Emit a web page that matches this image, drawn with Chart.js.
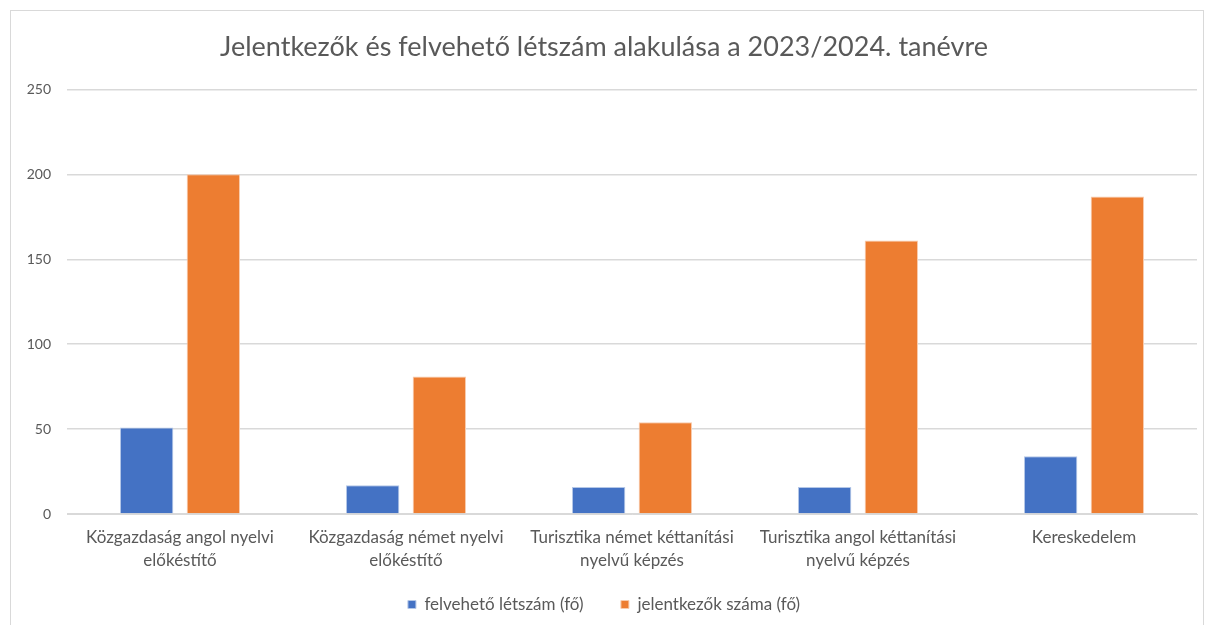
<!DOCTYPE html>
<html>
<head>
<meta charset="utf-8">
<script src="https://cdn.jsdelivr.net/npm/chart.js@4"></script>
<style>
  html, body { margin: 0; padding: 0; background: #fff; }
  #wrap { position: absolute; left: 10px; top: 10px; width: 1194px; height: 620px; border: 1px solid #d9d9d9; box-sizing: border-box; }
  canvas { display: block; }
</style>
</head>
<body>
<div id="wrap"><canvas id="chart"></canvas></div>
<script>
// chart data
const categories = [
    ['Közgazdaság angol nyelvi', 'előkéstítő'],
    ['Közgazdaság német nyelvi', 'előkéstítő'],
    ['Turisztika német kéttanítási', 'nyelvű képzés'],
    ['Turisztika angol kéttanítási', 'nyelvű képzés'],
    'Kereskedelem'
];
const felveheto = [51, 17, 16, 16, 34];
const jelentkezok = [200, 81, 54, 161, 187];
const yTicks = [0, 50, 100, 150, 200, 250];

const FONT = 'Lato, "Open Sans", sans-serif';

new Chart(document.getElementById('chart'), {
    type: 'bar',
    data: {
        labels: categories,
        datasets: [
            { label: 'felvehető létszám (fő)', data: felveheto, backgroundColor: '#4472c4', borderColor: '#b4c7e7', borderWidth: 1 },
            { label: 'jelentkezők száma (fő)', data: jelentkezok, backgroundColor: '#ed7d31', borderColor: '#f8cbad', borderWidth: 1 }
        ]
    },
    options: {
        responsive: true,
        maintainAspectRatio: false,
        animation: false,
        layout: { padding: { left: 0, right: 6, top: 8, bottom: 6 } },
        datasets: { bar: { categoryPercentage: 0.59, barPercentage: 0.8 } },
        plugins: {
            title: {
                display: true,
                text: 'Jelentkezők és felvehető létszám alakulása a 2023/2024. tanévre',
                color: '#595959',
                font: { family: FONT, size: 27, weight: 'normal' },
                padding: { top: 12, bottom: 26 }
            },
            legend: {
                position: 'bottom',
                labels: {
                    color: '#595959',
                    font: { family: FONT, size: 17 },
                    boxWidth: 8,
                    boxHeight: 8,
                    padding: 20,
                    // a little more room between the two entries, no extra height
                    generateLabels: (chart) => Chart.defaults.plugins.legend.labels.generateLabels(chart)
                        .map((item, i, all) => Object.assign(item, { text: i < all.length - 1 ? item.text + '    ' : item.text }))
                },
                onClick: null
            },
            tooltip: { enabled: false }
        },
        scales: {
            x: {
                grid: { display: false },
                border: { color: '#d9d9d9' },
                ticks: { color: '#595959', font: { family: FONT, size: 17, lineHeight: 1.35 }, maxRotation: 0, padding: 4 }
            },
            y: {
                min: 0,
                max: 250,
                afterBuildTicks: (axis) => { axis.ticks = yTicks.map(v => ({ value: v })); },
                afterFit: (axis) => { axis.width = 56; },
                grid: { color: '#d9d9d9', lineWidth: 1.5, drawTicks: false },
                border: { display: false },
                ticks: { color: '#595959', font: { family: FONT, size: 14 }, padding: 16 }
            }
        }
    }
});
</script>
</body>
</html>
